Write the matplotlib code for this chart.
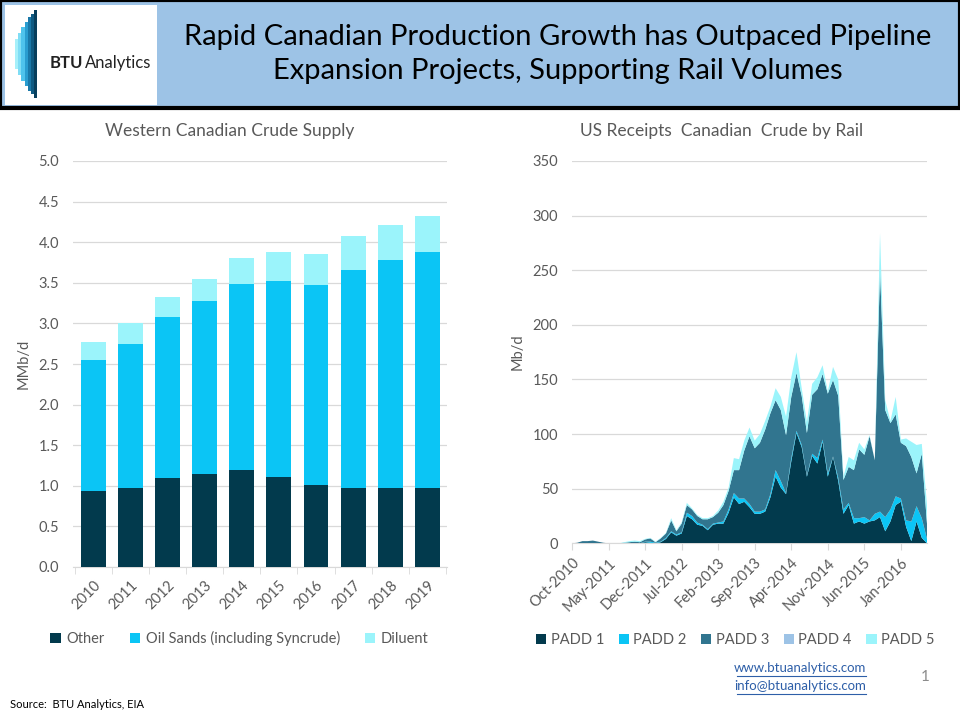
import numpy as np
import pandas as pd
import matplotlib.pyplot as plt
from matplotlib.patches import Rectangle
from matplotlib.lines import Line2D

plt.rcParams['font.family'] = ['Lato', 'DejaVu Sans']

# Western Canadian crude supply (MMb/d)
years = ['2010', '2011', '2012', '2013', '2014', '2015', '2016', '2017', '2018', '2019']
other = [0.93, 0.975, 1.10, 1.15, 1.20, 1.11, 1.01, 0.975, 0.975, 0.975]
oil_sands = [1.62, 1.775, 1.98, 2.12, 2.29, 2.41, 2.465, 2.685, 2.805, 2.905]
diluent = [0.22, 0.25, 0.25, 0.28, 0.31, 0.36, 0.385, 0.42, 0.43, 0.44]

# US receipts of Canadian crude by rail (Mb/d), monthly from Oct-2010
months = pd.date_range('2010-10-01', periods=69, freq='MS')
padd1 = [0, 0, 0, 0, 0, 0, 0, 0, 0, 0, 0, 0, 0, 0, 1, 0.5, 0, 1, 4, 10,
         7, 9, 25, 22, 17, 16, 12, 17, 18, 18, 28, 42, 36, 38, 33, 27, 27, 29, 42, 61,
         51, 45, 75, 101, 88, 61, 80, 73, 93, 61, 79, 57, 27, 35, 18, 20, 18, 20, 21, 24,
         11, 20, 35, 38, 15, 2, 20, 5, 0]
padd2 = [0, 0, 0, 0, 0, 0, 0, 0, 0, 0, 0, 0, 0, 0, 0.5, 1, 0.5, 0.5, 1, 1,
         1, 1, 3, 3, 2, 1, 1, 1, 1, 2, 3, 4, 5, 3, 3, 2, 2, 2, 3, 6,
         6, 1, 3, 2, 2, 1, 2, 5, 2, 3, 0.5, 3, 4, 2, 5, 3, 6, 1, 6, 5,
         13, 11, 8, 3, 6, 18, 14, 18, 4]
padd3 = [0, 0.5, 2, 2, 2.5, 1.5, 0.5, 0, 0, 0, 0.5, 1, 1.5, 1, 2, 3, 0.5, 3, 4, 10,
         3, 8, 7, 6, 6, 5, 9, 6, 9, 15, 17, 21, 26, 44, 62, 58, 63, 73, 74, 64,
         65, 53, 56, 53, 45, 39, 54, 63, 60, 73, 70, 75, 27, 33, 44, 63, 57, 77, 49, 221,
         98, 79, 75, 51, 68, 59, 30, 59, 14]
padd4 = [0] * 69
padd5 = [0, 0, 0, 0, 0, 0, 0, 0, 0, 0, 0.5, 1, 1, 1, 0.5, 0.5, 0.5, 0.5, 0.5, 2,
         1, 1, 2, 1, 1, 1, 1, 1, 2, 3, 3, 11, 10, 9, 8, 7, 8, 8, 6, 11,
         12, 17, 18, 19, 7, 10, 10, 11, 8, 2, 12, 15, 3, 9, 9, 6, 5, 1, 0, 34,
         9, 2, 16, 3, 7, 14, 26, 9, 17]

dark = '#023A4D'
cyan = '#0BC5F5'
light = '#9BF4FB'
steel = '#31758F'
padd4_col = '#9DC3E6'
grey_txt = '#595959'
grid_col = '#D9D9D9'
link_col = '#2E5FA8'

fig = plt.figure(figsize=(9.6, 7.2), dpi=100)

# header band
fig.patches.append(Rectangle((0.0, 1 - 108 / 720), 1.0, 108 / 720, transform=fig.transFigure,
                             facecolor='#9DC3E6', edgecolor='black', linewidth=3, zorder=0))
fig.patches.append(Rectangle((5 / 960, 1 - 105 / 720), 152 / 960, 100 / 720, transform=fig.transFigure,
                             facecolor='white', edgecolor='none', zorder=1))
# logo stripes
logo_cols = ['#A6F0FA', '#7FDDF5', '#4FC3EC', '#2A9DD0', '#1A78A8', '#0F5A82', '#083E5C']
logo_h = [30, 42, 54, 64, 74, 80, 88]
for k, (c, h) in enumerate(zip(logo_cols, logo_h)):
    x0 = 15 + k * 3.2
    fig.patches.append(Rectangle((x0 / 960, 1 - (54 + h / 2) / 720), 3.2 / 960, h / 720,
                                 transform=fig.transFigure, facecolor=c, edgecolor='none', zorder=2))
fig.text(50 / 960, 1 - 63 / 720, 'BTU', fontsize=12, fontweight='bold', color='#222222', va='center')
fig.text(85 / 960, 1 - 63 / 720, 'Analytics', fontsize=12, color='#222222', va='center')

fig.text(558 / 960, 1 - 37 / 720, 'Rapid Canadian Production Growth has Outpaced Pipeline',
         fontsize=21, ha='center', va='center', color='black')
fig.text(558 / 960, 1 - 71 / 720, 'Expansion Projects, Supporting Rail Volumes',
         fontsize=21, ha='center', va='center', color='black')

# left chart: stacked bars
ax1 = fig.add_axes([73 / 960, 1 - 567 / 720, 374 / 960, 406 / 720])
x = np.arange(len(years))
ax1.bar(x, other, width=0.67, color=dark, label='Other', zorder=3)
ax1.bar(x, oil_sands, width=0.67, bottom=other, color=cyan,
        label='Oil Sands (including Syncrude)', zorder=3)
base2 = np.array(other) + np.array(oil_sands)
ax1.bar(x, diluent, width=0.67, bottom=base2, color=light, label='Diluent', zorder=3)
ax1.set_xlim(-0.55, 9.53)
ax1.set_ylim(0, 5.0)
ax1.set_yticks(np.arange(0, 5.01, 0.5))
ax1.set_yticklabels([f'{v:.1f}' for v in np.arange(0, 5.01, 0.5)])
ax1.set_xticks(x)
ax1.set_xticklabels(years, rotation=45, ha='right', rotation_mode='anchor')
ax1.set_xticks(np.arange(-0.5, 10, 1), minor=True)
ax1.tick_params(axis='x', which='major', length=0, pad=8)
ax1.tick_params(axis='x', which='minor', length=5, color=grid_col)
ax1.tick_params(axis='y', length=0, pad=10)
ax1.grid(axis='y', color=grid_col, linewidth=0.9, zorder=0)
ax1.set_ylabel('MMb/d', fontsize=10.5, color=grey_txt, labelpad=6)
fig.text(230 / 960, 1 - 131 / 720, 'Western Canadian Crude Supply', fontsize=12.5,
         color=grey_txt, ha='center', va='center')
ax1.legend(loc='upper center', bbox_to_anchor=(0.445, -0.125), ncol=3, frameon=False,
           fontsize=10.5, handlelength=0.7, handleheight=0.7, columnspacing=1.7,
           handletextpad=0.4, labelcolor=grey_txt)

# right chart: stacked areas
ax2 = fig.add_axes([572 / 960, 1 - 543.3 / 720, 355 / 960, 382.3 / 720])
xi = np.arange(len(months))
ax2.stackplot(xi, padd1, padd2, padd3, padd4, padd5,
              colors=[dark, cyan, steel, padd4_col, light],
              labels=['PADD 1', 'PADD 2', 'PADD 3', 'PADD 4', 'PADD 5'],
              linewidth=0, zorder=3)
ax2.set_xlim(0, len(months) - 1)
ax2.set_ylim(0, 350)
ax2.set_yticks(range(0, 351, 50))
ticks = xi[::7]
ax2.set_xticks(ticks)
ax2.set_xticklabels([m.strftime('%b-%Y') for m in months[::7]], rotation=45,
                    ha='right', rotation_mode='anchor')
ax2.tick_params(axis='x', length=5, color=grid_col, pad=4)
ax2.tick_params(axis='y', length=0, pad=10)
ax2.grid(axis='y', color=grid_col, linewidth=0.9, zorder=0)
ax2.set_ylabel('Mb/d', fontsize=10.5, color=grey_txt, labelpad=6)
fig.text(722 / 960, 1 - 131 / 720, 'US Receipts  Canadian  Crude by Rail', fontsize=12.5,
         color=grey_txt, ha='center', va='center')
ax2.legend(loc='upper center', bbox_to_anchor=(0.46, -0.2), ncol=5, frameon=False,
           fontsize=10.5, handlelength=0.7, handleheight=0.7, columnspacing=1.0,
           handletextpad=0.3, labelcolor=grey_txt)

for ax in (ax1, ax2):
    for s in ('top', 'right', 'left'):
        ax.spines[s].set_visible(False)
    ax.spines['bottom'].set_color(grid_col)
    ax.tick_params(labelsize=10.5, labelcolor=grey_txt)

# footer
fig.text(866 / 960, 1 - 668 / 720, 'www.btuanalytics.com', fontsize=9.5, color=link_col,
         ha='right', va='center')
fig.text(866 / 960, 1 - 686 / 720, 'info@btuanalytics.com', fontsize=9.5, color=link_col,
         ha='right', va='center')
for yy in (676, 694):
    fig.add_artist(Line2D([737 / 960, 866 / 960], [1 - yy / 720, 1 - yy / 720],
                          transform=fig.transFigure, color=link_col, linewidth=0.8))
fig.text(925 / 960, 1 - 677 / 720, '1', fontsize=11, color='#8C8C8C', ha='center', va='center')
fig.text(10 / 960, 1 - 704 / 720, 'Source:  BTU Analytics, EIA', fontsize=8, color='black', va='center')

fig.savefig('out.png', dpi=100)
